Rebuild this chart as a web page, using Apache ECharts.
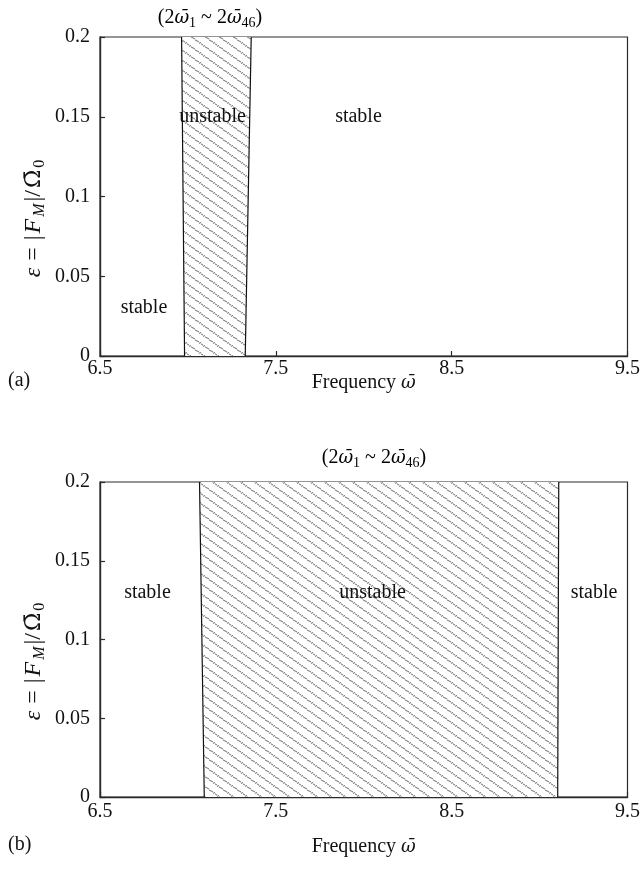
<!DOCTYPE html>
<html><head><meta charset="utf-8">
<script src="https://cdn.jsdelivr.net/npm/echarts@6/dist/echarts.min.js"></script>
<style>html,body{margin:0;padding:0;background:#fff}#c{width:643px;height:869px}</style>
</head><body><div id="c"></div>
<script>
// ---- data ----
const freqTicks = [6.5, 7.5, 8.5, 9.5];
const epsTicks = [0, 0.05, 0.1, 0.15, 0.2];
const epsEnds = [0, 0.2];
// boundary frequencies at eps = 0 and eps = 0.2
const aLeft = [6.981, 6.964];
const aRight = [7.326, 7.360];
const bLeft = [7.093, 7.066];
const bRight = [9.103, 9.109];
const aLabels = ['unstable', 'stable', 'stable'];
const aLabelFreq = [7.14, 7.97, 6.75];
const aLabelEps = [0.15, 0.15, 0.03];
const bLabels = ['stable', 'unstable', 'stable'];
const bLabelFreq = [6.77, 8.05, 9.31];
const bLabelEps = [0.13, 0.13, 0.13];

// ---- styles ----
const FONT = '"Liberation Serif", "Times New Roman", serif';
const DV = '"DejaVu Serif", serif';
const FS = 20;
const TXT = '#111';
const AX = '#2a2a2a';

function hatch() {
  const w = 14, h = 10;
  const c = document.createElement('canvas'); c.width = w; c.height = h;
  const g = c.getContext('2d');
  g.fillStyle = '#fff'; g.fillRect(0, 0, w, h);
  for (let x = 0; x < w; x++) {
    const y = Math.floor(x * h / w);
    g.fillStyle = (x % 2 === 0) ? '#8e8e8e' : '#cacaca';
    g.fillRect(x, y, 1, 1);
    g.fillStyle = (x % 2 === 0) ? '#dadada' : '#a0a0a0';
    g.fillRect(x, (y + 1) % h, 1, 1);
  }
  return c;
}
const pat = { image: hatch(), repeat: 'repeat' };

function rich(fs, ss, pad, hp) {
  return {
    n: { fontFamily: FONT, fontSize: fs, color: TXT, padding: [0, hp, 0, hp] },
    e: { fontFamily: FONT, fontSize: fs, color: TXT, padding: [0, hp + 5, 0, hp + 5] },
    i: { fontFamily: FONT, fontSize: fs, color: TXT, fontStyle: 'italic', padding: [0, hp, 0, hp] },
    o: { fontFamily: DV, fontSize: fs - 2, color: TXT, fontStyle: 'italic', padding: [0, hp, 0, hp] },
    O: { fontFamily: DV, fontSize: fs - 2, color: TXT, padding: [0, hp, 0, hp] },
    s: { fontFamily: FONT, fontSize: ss, color: TXT, padding: [pad, hp, 0, hp] },
    si: { fontFamily: FONT, fontSize: ss, color: TXT, fontStyle: 'italic', padding: [pad, hp, 0, hp] }
  };
}
const R19 = rich(FS, 14, 10, 0);
const RY = rich(24, 16, 12, 1);
const rangeText = '{n|(2}{o|ω\u0304}{s|1}{n| ~ 2}{o|ω\u0304}{s|46}{n|)}';

function xAxis(gi, margin, gap) {
  return {
    type: 'value', gridIndex: gi, min: freqTicks[0], max: freqTicks[freqTicks.length - 1],
    interval: freqTicks[1] - freqTicks[0],
    axisLine: { lineStyle: { color: AX, width: 1.4 } },
    axisTick: { inside: true, length: 5, lineStyle: { color: AX, width: 1.2 } },
    splitLine: { show: false },
    axisLabel: { margin: margin, fontFamily: FONT, fontSize: FS, color: TXT, formatter: v => String(v) },
    name: '{n|Frequency }{o|ω\u0304}', nameLocation: 'middle', nameGap: gap, nameMoveOverlap: false,
    nameTextStyle: { rich: R19 }
  };
}
function yAxis(gi) {
  return {
    type: 'value', gridIndex: gi, min: epsTicks[0], max: epsTicks[epsTicks.length - 1],
    interval: epsTicks[1] - epsTicks[0],
    axisLine: { lineStyle: { color: AX, width: 1.4 } },
    axisTick: { inside: true, length: 5, lineStyle: { color: AX, width: 1.2 } },
    splitLine: { show: false },
    axisLabel: { margin: 10, fontFamily: FONT, fontSize: FS, color: TXT },
    name: '{i|ε}{e|=}{n||}{i|F}{si|M}{n||/}{O|Ω\u0304}{s|0}', nameLocation: 'middle', nameRotate: 90,
    nameGap: 52, nameMoveOverlap: false,
    nameTextStyle: { rich: RY, padding: [0, 44, 0, 0] }
  };
}
function band(i, L, R) {
  return {
    type: 'custom', xAxisIndex: i, yAxisIndex: i, silent: true, z: 1, clip: true,
    data: [[L[0], L[1], R[0], R[1]]],
    renderItem(params, api) {
      const pts = [
        api.coord([api.value(0), epsEnds[0]]),
        api.coord([api.value(1), epsEnds[1]]),
        api.coord([api.value(3), epsEnds[1]]),
        api.coord([api.value(2), epsEnds[0]])
      ];
      return { type: 'polygon', shape: { points: pts }, style: { fill: pat, stroke: null } };
    }
  };
}
function edge(i, B) {
  return {
    type: 'line', xAxisIndex: i, yAxisIndex: i, silent: true, z: 3, symbol: 'none',
    data: [[B[0], epsEnds[0]], [B[1], epsEnds[1]]],
    lineStyle: { color: '#111', width: 1.2 }
  };
}
function labels(i, names, fx, ey) {
  return {
    type: 'scatter', xAxisIndex: i, yAxisIndex: i, silent: true, z: 5, symbolSize: 1,
    itemStyle: { color: 'rgba(0,0,0,0)', opacity: 1 },
    data: names.map((t, k) => ({ name: t, value: [fx[k], ey[k]] })),
    label: { show: true, position: 'inside', formatter: '{b}', fontFamily: FONT, fontSize: FS, color: TXT, opacity: 1 }
  };
}

const chart = echarts.init(document.getElementById('c'));
chart.setOption({
  backgroundColor: '#fff',
  animation: false,
  grid: [
    { left: 100, right: 13, top: 37, height: 319, show: true, borderColor: AX, borderWidth: 1.2 },
    { left: 100, right: 13, top: 482, height: 315, show: true, borderColor: AX, borderWidth: 1.2 }
  ],
  xAxis: [xAxis(0, 3, 17), xAxis(1, 5, 40)],
  yAxis: [yAxis(0), yAxis(1)],
  series: [
    band(0, aLeft, aRight), edge(0, aLeft), edge(0, aRight), labels(0, aLabels, aLabelFreq, aLabelEps),
    band(1, bLeft, bRight), edge(1, bLeft), edge(1, bRight), labels(1, bLabels, bLabelFreq, bLabelEps)
  ],
  graphic: [
    { type: 'text', x: 210, y: 18, style: { text: rangeText, rich: R19, align: 'center', verticalAlign: 'middle' } },
    { type: 'text', x: 374, y: 458, style: { text: rangeText, rich: R19, align: 'center', verticalAlign: 'middle' } },
    { type: 'text', x: 8, y: 381, style: { text: '(a)', font: FS + 'px ' + FONT, fill: TXT, align: 'left', verticalAlign: 'middle' } },
    { type: 'text', x: 8, y: 845, style: { text: '(b)', font: FS + 'px ' + FONT, fill: TXT, align: 'left', verticalAlign: 'middle' } }
  ]
});
</script>
</body></html>
